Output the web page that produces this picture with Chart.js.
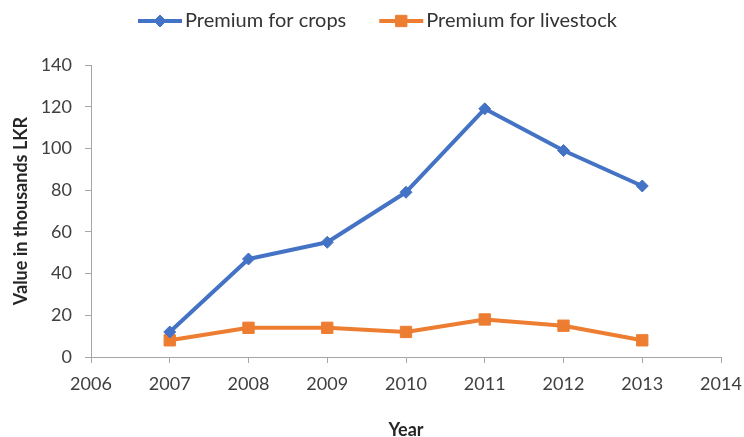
<!DOCTYPE html>
<html>
<head>
<meta charset="utf-8">
<script src="https://cdn.jsdelivr.net/npm/chart.js@4/dist/chart.umd.min.js"></script>
<style>
  html, body { margin: 0; padding: 0; background: #ffffff; }
  #wrap { width: 744px; height: 437px; }
</style>
</head>
<body>
<div id="wrap"><canvas id="chart" width="744" height="437"></canvas></div>
<script>
// Insurance premiums by year (thousands of LKR)
const years = [2007, 2008, 2009, 2010, 2011, 2012, 2013];
const cropPremium = [12, 47, 55, 79, 119, 99, 82];
const livestockPremium = [8, 14, 14, 12, 18, 15, 8];
const seriesNames = ['Premium for crops', 'Premium for livestock'];
const yTickValues = [0, 20, 40, 60, 80, 100, 120, 140];
const xTickValues = [2006, 2007, 2008, 2009, 2010, 2011, 2012, 2013, 2014];

const FONT = 'Lato, "Open Sans", sans-serif';
const TEXT = '#404040';
const AXIS = '#a6a6a6';

const toPoints = vals => years.map((yr, i) => ({ x: yr, y: vals[i] }));

// Legend drawn as a short line with the series marker in its middle
const lineLegend = {
  id: 'lineLegend',
  afterDraw(chart, args, opts) {
    const ctx = chart.ctx;
    let x = opts.x;
    const y = opts.y;
    ctx.save();
    ctx.font = opts.font;
    ctx.textBaseline = 'middle';
    ctx.textAlign = 'left';
    chart.data.datasets.forEach((ds, i) => {
      ctx.strokeStyle = ds.borderColor;
      ctx.lineWidth = ds.borderWidth;
      ctx.beginPath();
      ctx.moveTo(x, y);
      ctx.lineTo(x + opts.lineLength, y);
      ctx.stroke();
      ctx.fillStyle = ds.pointBackgroundColor;
      ctx.strokeStyle = ds.pointBorderColor;
      ctx.lineWidth = 1;
      Chart.helpers.drawPoint(ctx, {
        pointStyle: ds.pointStyle,
        radius: opts.markerRadius[i],
        borderWidth: 1,
        rotation: 0
      }, x + opts.lineLength / 2, y);
      const tx = x + opts.lineLength + opts.textGap;
      ctx.fillStyle = opts.color;
      ctx.fillText(ds.label, tx, y);
      x = tx + ctx.measureText(ds.label).width + opts.itemGap;
    });
    ctx.restore();
  }
};

new Chart(document.getElementById('chart'), {
  type: 'line',
  data: {
    datasets: [
      {
        label: seriesNames[0],
        data: toPoints(cropPremium),
        borderColor: '#4472c4',
        backgroundColor: '#4472c4',
        pointBackgroundColor: '#4472c4',
        pointBorderColor: '#4472c4',
        borderWidth: 4,
        pointStyle: 'rectRot',
        pointRadius: 6,
        pointBorderWidth: 1,
        borderJoinStyle: 'round',
        tension: 0
      },
      {
        label: seriesNames[1],
        data: toPoints(livestockPremium),
        borderColor: '#ed7d31',
        backgroundColor: '#ed7d31',
        pointBackgroundColor: '#ed7d31',
        pointBorderColor: '#ed7d31',
        borderWidth: 4,
        pointStyle: 'rect',
        pointRadius: 8,
        pointBorderWidth: 1,
        borderJoinStyle: 'round',
        tension: 0
      }
    ]
  },
  options: {
    responsive: false,
    animation: false,
    devicePixelRatio: 1,
    layout: { padding: { left: 0, right: 23, top: 65, bottom: 0 } },
    plugins: {
      legend: { display: false },
      tooltip: { enabled: false },
      lineLegend: {
        x: 138, y: 21, lineLength: 44, textGap: 3, itemGap: 33,
        markerRadius: [6, 8],
        font: '20px ' + FONT, color: '#333333'
      }
    },
    scales: {
      x: {
        type: 'linear',
        min: xTickValues[0],
        max: xTickValues[xTickValues.length - 1],
        afterBuildTicks: s => { s.ticks = xTickValues.map(v => ({ value: v })); },
        afterFit: s => { s.height = 80; s.paddingLeft = 0; s.paddingRight = 0; },
        ticks: {
          callback: v => String(v),
          color: TEXT,
          font: { family: FONT, size: 18 },
          padding: 10,
          maxRotation: 0
        },
        grid: { drawOnChartArea: false, drawTicks: true, tickLength: 6, color: AXIS },
        border: { color: AXIS, width: 1 },
        title: {
          display: true,
          text: 'Year',
          color: '#262626',
          font: { family: FONT, size: 18, weight: 'bold', lineHeight: 0.8 },
          padding: { top: 0, bottom: 0 }
        }
      },
      y: {
        min: yTickValues[0],
        max: yTickValues[yTickValues.length - 1],
        afterBuildTicks: s => { s.ticks = yTickValues.map(v => ({ value: v })); },
        afterFit: s => { s.width = 91; },
        ticks: {
          color: TEXT,
          font: { family: FONT, size: 18 },
          padding: 13
        },
        grid: { drawOnChartArea: false, drawTicks: true, tickLength: 6, color: AXIS },
        border: { color: AXIS, width: 1 },
        title: {
          display: true,
          text: 'Value in thousands LKR',
          color: '#262626',
          font: { family: FONT, size: 18, weight: 'bold' },
          padding: { top: 10, bottom: 0 }
        }
      }
    }
  },
  plugins: [lineLegend]
});
</script>
</body>
</html>
